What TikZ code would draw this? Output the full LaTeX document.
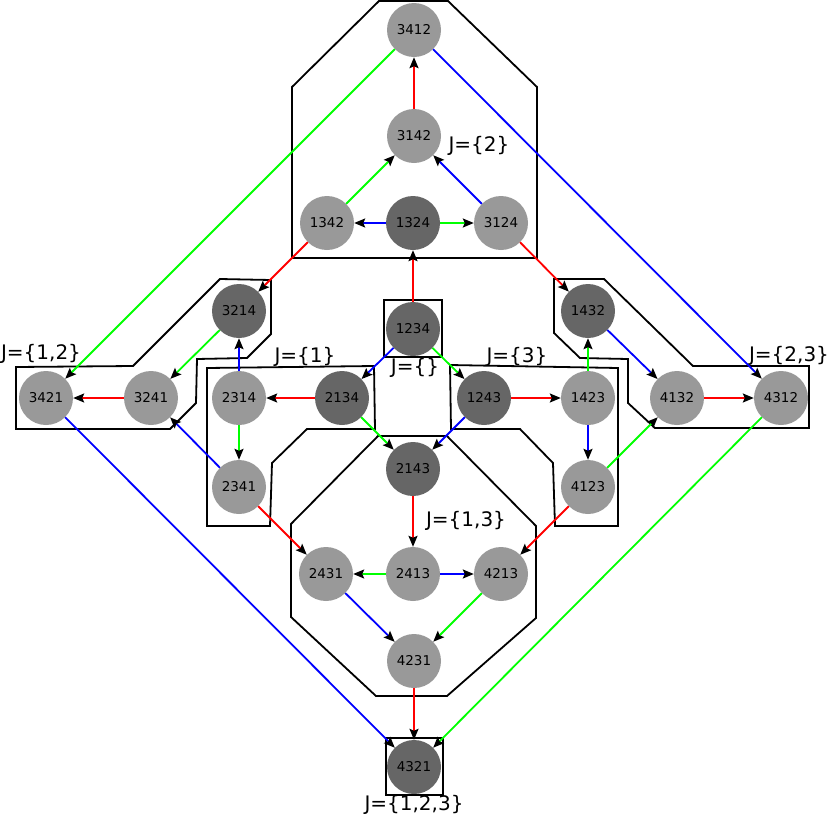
\documentclass[tikz,border=0pt]{standalone}
\usepackage{fontspec}
\setmainfont{DejaVu Sans}
\usetikzlibrary{arrows.meta}
\definecolor{lg}{HTML}{999999}
\definecolor{dg}{HTML}{666666}
\definecolor{ered}{HTML}{FF0000}
\definecolor{egreen}{HTML}{00FF00}
\definecolor{eblue}{HTML}{0000FF}
\tikzset{
  perm/.style={circle,fill=lg,minimum size=54pt,inner sep=0pt,font=\fontsize{13.5}{16}\selectfont},
  dperm/.style={perm,fill=dg},
  arr/.style={line width=1.8pt,-{Stealth[length=11pt,width=9pt,inset=2pt,color=black]}},
  re/.style={arr,draw=ered},
  ge/.style={arr,draw=egreen},
  be/.style={arr,draw=eblue},
  region/.style={draw=black,line width=1.8pt,line join=miter},
  jlab/.style={font=\fontsize{20}{24}\selectfont,inner sep=0pt}
}
\begin{document}
\begin{tikzpicture}[x=1pt,y=-1pt]
\useasboundingbox (0,0) rectangle (831,817);
% regions
\draw[region] (379,1) -- (448,1) -- (537,87) -- (537,258) -- (292,258) -- (292,87) -- cycle;
\draw[region] (16,367) -- (133,366) -- (220,279) -- (271,280) -- (271,334) -- (247,358) -- (197,359) -- (196,403) -- (170,429) -- (16,429) -- cycle;
\draw[region] (554,279) -- (604,279) -- (693,366) -- (809,366) -- (809,428) -- (655,428) -- (628,403) -- (628,359) -- (580,358) -- (554,333) -- cycle;
\draw[region] (207,368) -- (374,366) -- (375,429) -- (307,429) -- (272,463) -- (270,526) -- (207,526) -- cycle;
\draw[region] (450,365) -- (618,368) -- (618,526) -- (555,526) -- (553,463) -- (520,429) -- (451,429) -- cycle;
\draw[region] (384,300) rectangle (442,357);
\draw[region] (378,436) -- (447,436) -- (536,526) -- (536,618) -- (447,696) -- (376,696) -- (291,617) -- (291,524) -- cycle;
\draw[region] (386,738) rectangle (443,795);
% labels
\node[jlab] (l2) at (479,146) {J=\{2\}};
\node[jlab] (l12) at (41,354) {J=\{1,2\}};
\node[jlab] (l1) at (305,357) {J=\{1\}};
\node[jlab] (l0) at (415,368) {J=\{\}};
\node[jlab] (l3) at (517,357) {J=\{3\}};
\node[jlab] (l23) at (789,356) {J=\{2,3\}};
\node[jlab] (l13) at (466,521) {J=\{1,3\}};
\node[jlab] (l123) at (414,805) {J=\{1,2,3\}};
% nodes
\node[perm] (n3412) at (414,30) {3412};
\node[perm] (n3142) at (414,136) {3142};
\node[perm] (n1342) at (327,223) {1342};
\node[dperm] (n1324) at (413,223) {1324};
\node[perm] (n3124) at (501,223) {3124};
\node[dperm] (n3214) at (239,311) {3214};
\node[dperm] (n1234) at (413,329) {1234};
\node[dperm] (n1432) at (588,311) {1432};
\node[perm] (n3421) at (46,398) {3421};
\node[perm] (n3241) at (151,398) {3241};
\node[perm] (n2314) at (239,398) {2314};
\node[dperm] (n2134) at (342,398) {2134};
\node[dperm] (n1243) at (484,398) {1243};
\node[perm] (n1423) at (588,398) {1423};
\node[perm] (n4132) at (677,398) {4132};
\node[perm] (n4312) at (781,398) {4312};
\node[dperm] (n2143) at (413,469) {2143};
\node[perm] (n2341) at (239,487) {2341};
\node[perm] (n4123) at (588,487) {4123};
\node[perm] (n2431) at (326,574) {2431};
\node[perm] (n2413) at (413,574) {2413};
\node[perm] (n4213) at (501,574) {4213};
\node[perm] (n4231) at (414,661) {4231};
\node[dperm] (n4321) at (414,767) {4321};
% edges
\draw[re] (n3142) -- (n3412);
\draw[ge] (n1342) -- (n3142);
\draw[be] (n3124) -- (n3142);
\draw[be] (n1324) -- (n1342);
\draw[ge] (n1324) -- (n3124);
\draw[re] (n1234) -- (n1324);
\draw[ge] (n3412) -- (n3421);
\draw[be] (n3412) -- (n4312);
\draw[re] (n1342) -- (n3214);
\draw[re] (n3124) -- (n1432);
\draw[ge] (n3214) -- (n3241);
\draw[be] (n2314) -- (n3214);
\draw[re] (n3241) -- (n3421);
\draw[be] (n2341) -- (n3241);
\draw[re] (n2134) -- (n2314);
\draw[ge] (n2314) -- (n2341);
\draw[be] (n1234) -- (n2134);
\draw[ge] (n1234) -- (n1243);
\draw[re] (n1243) -- (n1423);
\draw[ge] (n1423) -- (n1432);
\draw[be] (n1423) -- (n4123);
\draw[be] (n1432) -- (n4132);
\draw[re] (n4132) -- (n4312);
\draw[ge] (n4123) -- (n4132);
\draw[ge] (n2134) -- (n2143);
\draw[be] (n1243) -- (n2143);
\draw[re] (n2143) -- (n2413);
\draw[ge] (n2413) -- (n2431);
\draw[be] (n2413) -- (n4213);
\draw[re] (n2341) -- (n2431);
\draw[re] (n4123) -- (n4213);
\draw[be] (n2431) -- (n4231);
\draw[ge] (n4213) -- (n4231);
\draw[re] (n4231) -- (n4321);
\draw[be] (n3421) -- (n4321);
\draw[ge] (n4312) -- (n4321);
\end{tikzpicture}
\end{document}
